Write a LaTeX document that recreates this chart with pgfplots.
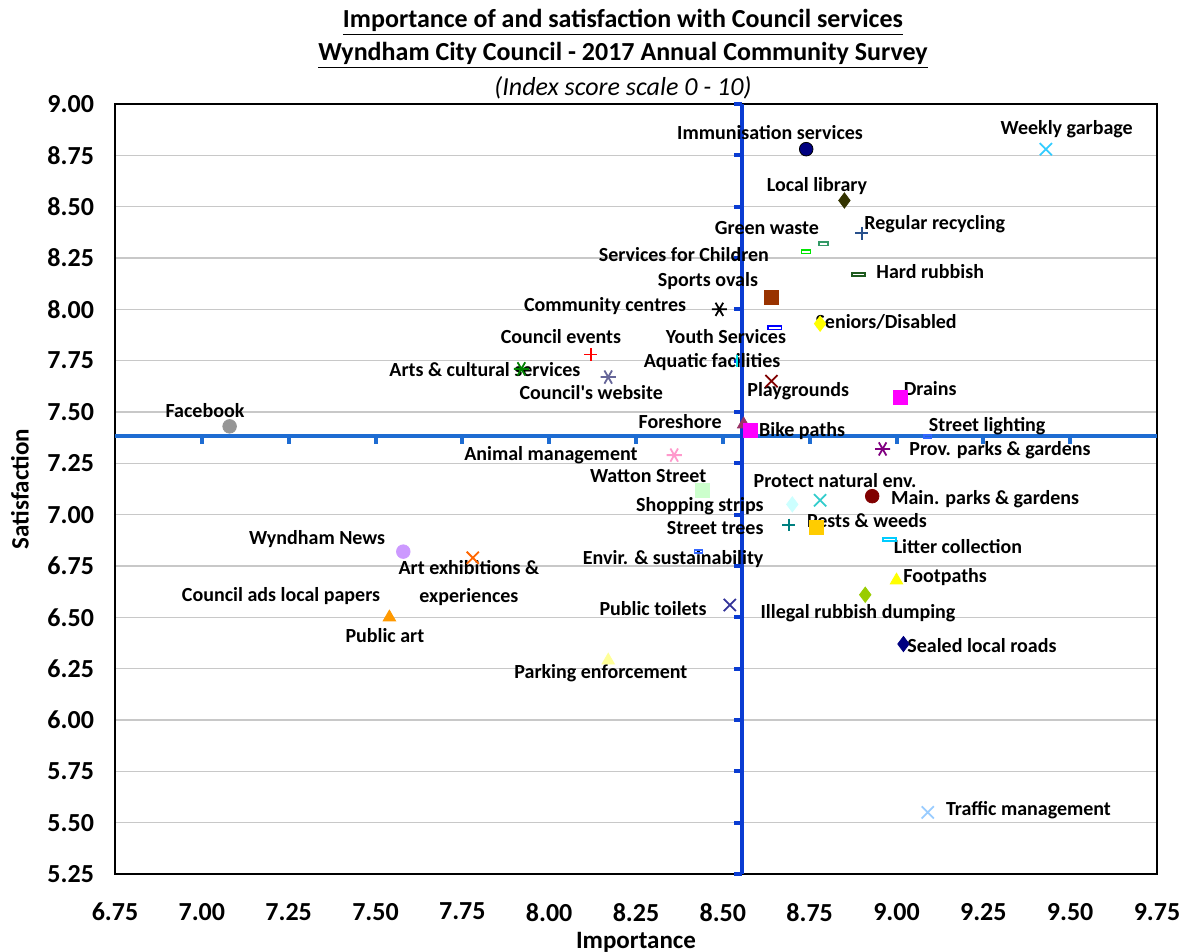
\documentclass[border=0pt]{standalone}
\usepackage{pgfplots}
\pgfplotsset{compat=1.18}
\usepackage{fontspec}
\setmainfont{Carlito}

\definecolor{hblue}{RGB}{30,108,210}
\definecolor{vblue}{RGB}{10,60,210}
\definecolor{gridgrey}{RGB}{200,200,200}

\pgfplotsset{
  pt/.style={only marks, mark size=3.4pt},
  ln/.style={only marks, mark size=3.2pt, line width=0.9pt},
  xm/.style={only marks, mark=x, mark size=4.3pt, line width=0.9pt},
  st/.style={only marks, mark=asterisk, mark size=3.8pt, line width=0.9pt, mark options={rotate=90}},
  dashmk/.style={only marks, mark=square, mark size=1.6pt,
    mark options={xscale=1.4, yscale=0.55, line width=0.7pt}},
}
\tikzset{lbl/.style={font=\fontsize{10}{12}\selectfont\bfseries, inner sep=0pt}}

\begin{document}
\begin{tikzpicture}
\begin{axis}[
  scale only axis,
  width=521pt, height=385pt,
  xmin=6.75, xmax=9.75, ymin=5.25, ymax=9.00,
  xtick={6.75,7.00,7.25,7.50,7.75,8.00,8.25,8.50,8.75,9.00,9.25,9.50,9.75},
  ytick={5.25,5.50,5.75,6.00,6.25,6.50,6.75,7.00,7.25,7.50,7.75,8.00,8.25,8.50,8.75,9.00},
  ymajorgrids,
  major grid style={draw=gridgrey, line width=0.7pt},
  major tick length=0pt,
  axis line style={black, line width=0.8pt},
  tick label style={font=\fontsize{13}{15}\selectfont\bfseries},
  xticklabel style={yshift=-11pt},
  yticklabel style={xshift=-7pt},
  /pgf/number format/.cd, fixed, fixed zerofill, precision=2, assume math mode=true,
  /pgfplots/.cd,
  clip=false,
]
% quadrant lines (means)
\draw[hblue, line width=2pt] (axis cs:6.75,7.383) -- (axis cs:9.75,7.383);
\pgfplotsinvokeforeach{7.00,7.25,7.50,7.75,8.00,8.25,8.50,8.75,9.00,9.25,9.50}{
  \draw[hblue, line width=2pt] (axis cs:#1,7.383) -- ++(0pt,-4pt);
}
\draw[vblue, line width=2pt] (axis cs:8.555,5.25) -- (axis cs:8.555,9.00);
\pgfplotsinvokeforeach{5.25,5.50,5.75,6.00,6.25,6.50,6.75,7.00,7.25,7.50,7.75,8.00,8.25,8.50,8.75,9.00}{
  \draw[vblue, line width=2pt] (axis cs:8.555,#1) -- ++(-4pt,0pt);
}

% services
\addplot[pt, mark=*, draw=none, fill={rgb,255:red,0;green,0;blue,128}] coordinates {(8.74,8.78)};
\addplot[xm, color={rgb,255:red,51;green,204;blue,255}] coordinates {(9.43,8.78)};
\addplot[pt, mark=diamond*, mark size=3.8pt, color={rgb,255:red,51;green,51;blue,0}] coordinates {(8.85,8.53)};
\addplot[ln, mark=+, color={rgb,255:red,40;green,80;blue,140}] coordinates {(8.90,8.37)};
\addplot[dashmk, color={rgb,255:red,51;green,153;blue,102}] coordinates {(8.79,8.32)};
\addplot[dashmk, color={rgb,255:red,0;green,230;blue,0}] coordinates {(8.74,8.28)};
\addplot[dashmk, mark size=2.2pt, mark options={xscale=1.5,yscale=0.4,line width=0.9pt}, color={rgb,255:red,30;green,90;blue,30}] coordinates {(8.89,8.17)};
\addplot[pt, mark=square*, mark size=3.5pt, color={rgb,255:red,153;green,51;blue,0}] coordinates {(8.64,8.06)};
\addplot[st, color=black] coordinates {(8.49,8.00)};
\addplot[dashmk, mark size=2.2pt, mark options={xscale=1.5,yscale=0.4,line width=0.9pt}, color={rgb,255:red,0;green,0;blue,255}] coordinates {(8.65,7.91)};
\addplot[pt, mark=diamond*, mark size=3.8pt, color={rgb,255:red,255;green,255;blue,0}] coordinates {(8.78,7.93)};
\addplot[ln, mark=+, color=red] coordinates {(8.12,7.78)};
\addplot[pt, mark=|, mark size=3pt, line width=1pt, color={rgb,255:red,0;green,230;blue,230}] coordinates {(8.54,7.75)};
\addplot[st, color={rgb,255:red,0;green,128;blue,0}] coordinates {(7.92,7.71)};
\addplot[st, color={rgb,255:red,102;green,102;blue,153}] coordinates {(8.17,7.67)};
\addplot[xm, color={rgb,255:red,128;green,0;blue,0}] coordinates {(8.64,7.65)};
\addplot[pt, mark=square*, mark size=3.5pt, color={rgb,255:red,255;green,0;blue,255}] coordinates {(9.01,7.57)};
\addplot[pt, mark=*, color={rgb,255:red,150;green,150;blue,150}] coordinates {(7.08,7.43)};
\addplot[pt, mark=triangle*, mark size=3.6pt, color={rgb,255:red,153;green,51;blue,102}] coordinates {(8.56,7.44)};
\addplot[pt, mark=square*, mark size=3.5pt, color={rgb,255:red,255;green,0;blue,255}] coordinates {(8.58,7.41)};
\addplot[dashmk, mark size=1.4pt, color={rgb,255:red,51;green,102;blue,255}] coordinates {(9.09,7.38)};
\addplot[st, color={rgb,255:red,128;green,0;blue,128}] coordinates {(8.96,7.32)};
\addplot[st, color={rgb,255:red,255;green,153;blue,204}] coordinates {(8.36,7.29)};
\addplot[pt, mark=square*, mark size=3.5pt, color={rgb,255:red,204;green,255;blue,204}] coordinates {(8.44,7.12)};
\addplot[xm, color={rgb,255:red,51;green,204;blue,204}] coordinates {(8.78,7.07)};
\addplot[pt, mark=diamond*, mark size=3.8pt, color={rgb,255:red,204;green,255;blue,255}] coordinates {(8.70,7.05)};
\addplot[pt, mark=*, color={rgb,255:red,128;green,0;blue,0}] coordinates {(8.93,7.09)};
\addplot[ln, mark=+, color={rgb,255:red,0;green,128;blue,128}] coordinates {(8.69,6.95)};
\addplot[pt, mark=square*, mark size=3.5pt, color={rgb,255:red,255;green,204;blue,0}] coordinates {(8.77,6.94)};
\addplot[dashmk, mark size=2.1pt, mark options={xscale=1.5,yscale=0.4,line width=0.9pt}, color={rgb,255:red,0;green,204;blue,255}] coordinates {(8.98,6.88)};
\addplot[dashmk, mark size=1.4pt, color={rgb,255:red,51;green,102;blue,255}] coordinates {(8.43,6.82)};
\addplot[pt, mark=*, color={rgb,255:red,204;green,153;blue,255}] coordinates {(7.58,6.82)};
\addplot[xm, color={rgb,255:red,255;green,102;blue,0}] coordinates {(7.78,6.79)};
\addplot[pt, mark=triangle*, mark size=3.6pt, color={rgb,255:red,255;green,255;blue,0}] coordinates {(9.00,6.68)};
\addplot[pt, mark=diamond*, mark size=3.8pt, color={rgb,255:red,153;green,204;blue,0}] coordinates {(8.91,6.61)};
\addplot[xm, color={rgb,255:red,51;green,51;blue,153}] coordinates {(8.52,6.56)};
\addplot[pt, mark=triangle*, mark size=3.6pt, color={rgb,255:red,255;green,153;blue,0}] coordinates {(7.54,6.50)};
\addplot[pt, mark=diamond*, mark size=3.8pt, color={rgb,255:red,0;green,0;blue,128}] coordinates {(9.02,6.37)};
\addplot[pt, mark=triangle*, mark size=3.6pt, color={rgb,255:red,255;green,255;blue,153}] coordinates {(8.17,6.29)};
\addplot[xm, color={rgb,255:red,153;green,204;blue,255}] coordinates {(9.09,5.55)};

% data labels
\node[lbl] at (axis cs:8.636,8.859) {Immunisation services};
\node[lbl] at (axis cs:9.49,8.879) {Weekly garbage};
\node[lbl] at (axis cs:8.771,8.601) {Local library};
\node[lbl] at (axis cs:9.110,8.416) {Regular recycling};
\node[lbl] at (axis cs:8.627,8.397) {Green waste};
\node[lbl] at (axis cs:8.388,8.265) {Services for Children};
\node[lbl] at (axis cs:9.097,8.182) {Hard rubbish};
\node[lbl] at (axis cs:8.457,8.138) {Sports ovals};
\node[lbl] at (axis cs:8.161,8.017) {Community centres};
\node[lbl] at (axis cs:8.970,7.939) {Seniors/Disabled};
\node[lbl] at (axis cs:8.034,7.866) {Council events};
\node[lbl] at (axis cs:8.509,7.866) {Youth Services};
\node[lbl] at (axis cs:8.469,7.744) {Aquatic facilities};
\node[lbl] at (axis cs:7.815,7.705) {Arts \& cultural services};
\node[lbl] at (axis cs:8.121,7.593) {Council\textquotesingle s website};
\node[lbl] at (axis cs:8.717,7.603) {Playgrounds};
\node[lbl] at (axis cs:9.097,7.612) {Drains};
\node[lbl] at (axis cs:7.009,7.505) {Facebook};
\node[lbl] at (axis cs:8.377,7.452) {Foreshore};
\node[lbl] at (axis cs:8.728,7.408) {Bike paths};
\node[lbl] at (axis cs:9.261,7.432) {Street lighting};
\node[lbl] at (axis cs:9.298,7.315) {Prov. parks \& gardens};
\node[lbl] at (axis cs:8.005,7.291) {Animal management};
\node[lbl] at (axis cs:8.285,7.189) {Watton Street};
\node[lbl] at (axis cs:8.823,7.164) {Protect natural env.};
\node[lbl] at (axis cs:9.255,7.077) {Main. parks \& gardens};
\node[lbl] at (axis cs:8.434,7.043) {Shopping strips};
\node[lbl] at (axis cs:8.915,6.969) {Pests \& weeds};
\node[lbl] at (axis cs:8.478,6.935) {Street trees};
\node[lbl] at (axis cs:9.177,6.843) {Litter collection};
\node[lbl] at (axis cs:7.332,6.882) {Wyndham News};
\node[lbl, align=center] at (axis cs:7.769,6.667) {Art exhibitions \&\\[2pt]experiences};
\node[lbl] at (axis cs:8.357,6.784) {Envir. \& sustainability};
\node[lbl] at (axis cs:9.140,6.697) {Footpaths};
\node[lbl] at (axis cs:7.228,6.604) {Council ads local papers};
\node[lbl] at (axis cs:8.299,6.541) {Public toilets};
\node[lbl] at (axis cs:8.889,6.521) {Illegal rubbish dumping};
\node[lbl] at (axis cs:7.527,6.409) {Public art};
\node[lbl] at (axis cs:9.246,6.361) {Sealed local roads};
\node[lbl] at (axis cs:8.149,6.229) {Parking enforcement};
\node[lbl] at (axis cs:9.38,5.562) {Traffic management};

% titles and axis labels
\node[font=\fontsize{13}{15}\selectfont\bfseries] at ([yshift=41pt]rel axis cs:0.4875,1) {\underline{Importance of and satisfaction with Council services}};
\node[font=\fontsize{13}{15}\selectfont\bfseries] at ([yshift=24.5pt]rel axis cs:0.4875,1) {\underline{Wyndham City Council - 2017 Annual Community Survey}};
\node[font=\fontsize{13}{15}\selectfont\itshape] at ([yshift=8pt]rel axis cs:0.4875,1) {(Index score scale 0 - 10)};
\node[font=\fontsize{12.5}{14}\selectfont\bfseries] at ([yshift=-34pt]rel axis cs:0.5,0) {Importance};
\node[font=\fontsize{12.5}{14}\selectfont\bfseries, rotate=90] at ([xshift=-47.5pt]rel axis cs:0,0.5) {Satisfaction};

\coordinate (sw) at (rel axis cs:0,0);
\coordinate (ne) at (rel axis cs:1,1);
\end{axis}
\pgfresetboundingbox
\path[use as bounding box] ([shift={(-57.5pt,-39pt)}]sw) rectangle ([shift={(12.5pt,52pt)}]ne);
\end{tikzpicture}
\end{document}
